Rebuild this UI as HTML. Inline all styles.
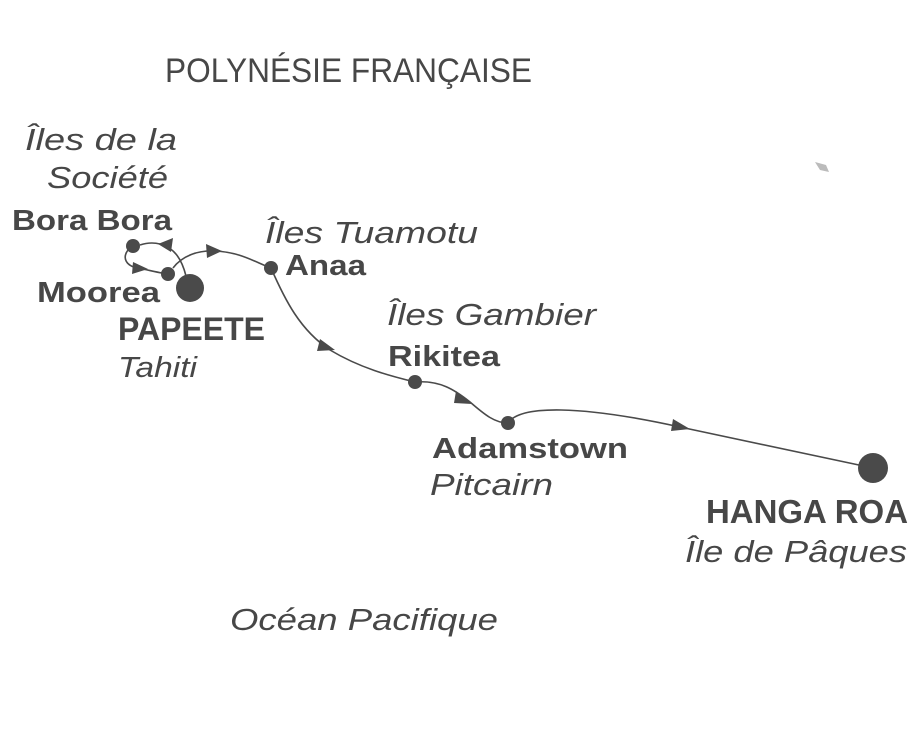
<!DOCTYPE html>
<html><head><meta charset="utf-8"><style>
html,body{margin:0;padding:0;background:#fff;}
svg{display:block;}
text{font-family:"Liberation Sans",sans-serif;fill:#474747;}
.i{font-style:italic;}
.b{font-weight:bold;}
</style></head><body>
<svg width="911" height="750" viewBox="0 0 911 750" xmlns="http://www.w3.org/2000/svg">
<rect width="911" height="750" fill="#fff"/>
<polygon points="815,162 826,165 829,172 820,170" fill="#bbb"/>
<g fill="none" stroke="#4a4a4a" stroke-width="1.6">
<path d="M186,276 C182,260 175,248 160,244 C152,242 146,243 140,245"/>
<path d="M128,250 C122,258 126,266 138,268 C148,270 156,272 162,273"/>
<path d="M173,268 C182,256 198,250 215,251 C240,252 255,262 271,268"/>
<path d="M271,268 C285,300 300,330 330,350 C360,368 390,376 415,382"/>
<path d="M415,382 C440,380 455,390 470,402 C485,415 495,423 508,423"/>
<path d="M508,423 C520,405 580,405 680,427 L873,468"/>
</g>
<g fill="#4a4a4a">
<polygon points="158,244 173,238 171,252"/>
<polygon points="148,269 133,262 132,274"/>
<polygon points="222,251 206,244 207,258"/>
<polygon points="335,350 320,339 317,351"/>
<polygon points="472,404 456,391 454,403"/>
<polygon points="690,429 673,419 671,431"/>
<circle cx="133" cy="246" r="7"/>
<circle cx="168" cy="274" r="7"/>
<circle cx="190" cy="288" r="14"/>
<circle cx="271" cy="268" r="7"/>
<circle cx="415" cy="382" r="7"/>
<circle cx="508" cy="423" r="7"/>
<circle cx="873" cy="468" r="15"/>
</g>
<text x="165" y="82" font-size="34" textLength="367" lengthAdjust="spacingAndGlyphs">POLYNÉSIE FRANÇAISE</text>
<text class="i" x="25" y="150" font-size="31" textLength="152" lengthAdjust="spacingAndGlyphs">Îles de la</text>
<text class="i" x="47" y="188" font-size="31" textLength="121" lengthAdjust="spacingAndGlyphs">Société</text>
<text class="b" x="12" y="230" font-size="29" textLength="160" lengthAdjust="spacingAndGlyphs">Bora Bora</text>
<text class="i" x="265" y="243" font-size="31" textLength="213" lengthAdjust="spacingAndGlyphs">Îles Tuamotu</text>
<text class="b" x="285" y="275" font-size="29" textLength="81" lengthAdjust="spacingAndGlyphs">Anaa</text>
<text class="b" x="37" y="302" font-size="29" textLength="123" lengthAdjust="spacingAndGlyphs">Moorea</text>
<text class="b" x="118" y="340" font-size="32" textLength="147" lengthAdjust="spacingAndGlyphs">PAPEETE</text>
<text class="i" x="118" y="377" font-size="29" textLength="79" lengthAdjust="spacingAndGlyphs">Tahiti</text>
<text class="i" x="387" y="325" font-size="31" textLength="209" lengthAdjust="spacingAndGlyphs">Îles Gambier</text>
<text class="b" x="388" y="366" font-size="29" textLength="112" lengthAdjust="spacingAndGlyphs">Rikitea</text>
<text class="b" x="432" y="458" font-size="29" textLength="196" lengthAdjust="spacingAndGlyphs">Adamstown</text>
<text class="i" x="430" y="495" font-size="31" textLength="123" lengthAdjust="spacingAndGlyphs">Pitcairn</text>
<text class="b" x="706" y="523" font-size="33" textLength="202" lengthAdjust="spacingAndGlyphs">HANGA ROA</text>
<text class="i" x="685" y="562" font-size="31" textLength="222" lengthAdjust="spacingAndGlyphs">Île de Pâques</text>
<text class="i" x="230" y="630" font-size="31" textLength="268" lengthAdjust="spacingAndGlyphs">Océan Pacifique</text>
</svg>
</body></html>
